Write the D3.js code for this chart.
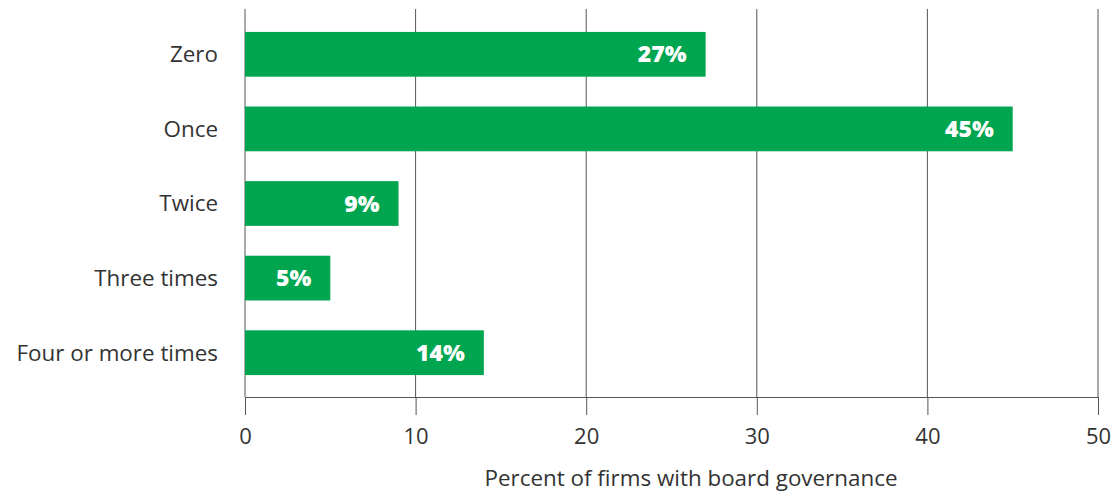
<!DOCTYPE html>
<html>
<head>
<meta charset="utf-8">
<script src="https://cdn.jsdelivr.net/npm/d3@7"></script>
<style>
  body { margin: 0; background: #fff; }
  text { font-family: "Open Sans", Lato, sans-serif; }
</style>
</head>
<body>
<div id="chart"></div>
<script>
//Categories and values
const categories = ["Zero", "Once", "Twice", "Three times", "Four or more times"];
const values = [27, 45, 9, 5, 14];
const xTicks = [0, 10, 20, 30, 40, 50];

const width = 1113,
  height = 493;

const svg = d3.select("#chart")
  .append("svg")
  .attr("width", width)
  .attr("height", height);

//x scale runs 0..50 across the plot
const x = d3.scaleLinear()
  .domain([0, 50])
  .range([245, 1098]);

const y = d3.scaleBand()
  .domain(categories)
  .range([17, 390])
  .paddingInner(0.4)
  .paddingOuter(0.2);

const axisY = 397;

//vertical grid lines
svg.selectAll(".grid")
  .data(xTicks)
  .join("line")
  .attr("x1", d => x(d))
  .attr("x2", d => x(d))
  .attr("y1", 9)
  .attr("y2", axisY)
  .attr("stroke", "#555")
  .attr("stroke-width", 1);

//bottom axis
const xAxis = svg.append("g")
  .attr("transform", `translate(0, ${axisY})`)
  .call(d3.axisBottom(x).tickValues(xTicks).tickSize(18).tickPadding(13).tickSizeOuter(0));
xAxis.select(".domain").attr("stroke", "#555");
xAxis.selectAll(".tick line").attr("stroke", "#555");
xAxis.selectAll(".tick text")
  .attr("fill", "#333")
  .style("font-family", "'Open Sans', sans-serif")
  .style("font-size", "22px");

//bars
svg.selectAll(".bar")
  .data(values)
  .join("rect")
  .attr("x", x(0))
  .attr("y", (d, i) => y(categories[i]))
  .attr("width", d => x(d) - x(0))
  .attr("height", y.bandwidth())
  .attr("fill", "#00A54F");

//value labels inside bar ends
svg.selectAll(".val")
  .data(values)
  .join("text")
  .attr("x", d => x(d) - 19)
  .attr("y", (d, i) => y(categories[i]) + y.bandwidth() / 2)
  .attr("dy", "0.35em")
  .attr("text-anchor", "end")
  .attr("fill", "#fff")
  .style("font-weight", "800")
  .style("font-size", "23px")
  .text(d => d + "%");

//category labels
svg.selectAll(".cat")
  .data(categories)
  .join("text")
  .attr("x", 218)
  .attr("y", d => y(d) + y.bandwidth() / 2)
  .attr("dy", "0.35em")
  .attr("text-anchor", "end")
  .attr("fill", "#333")
  .style("font-size", "22.4px")
  .text(d => d);

//axis title
svg.append("text")
  .attr("x", 691)
  .attr("y", 486)
  .attr("text-anchor", "middle")
  .attr("fill", "#333")
  .style("font-size", "22.4px")
  .text("Percent of firms with board governance");
</script>
</body>
</html>
